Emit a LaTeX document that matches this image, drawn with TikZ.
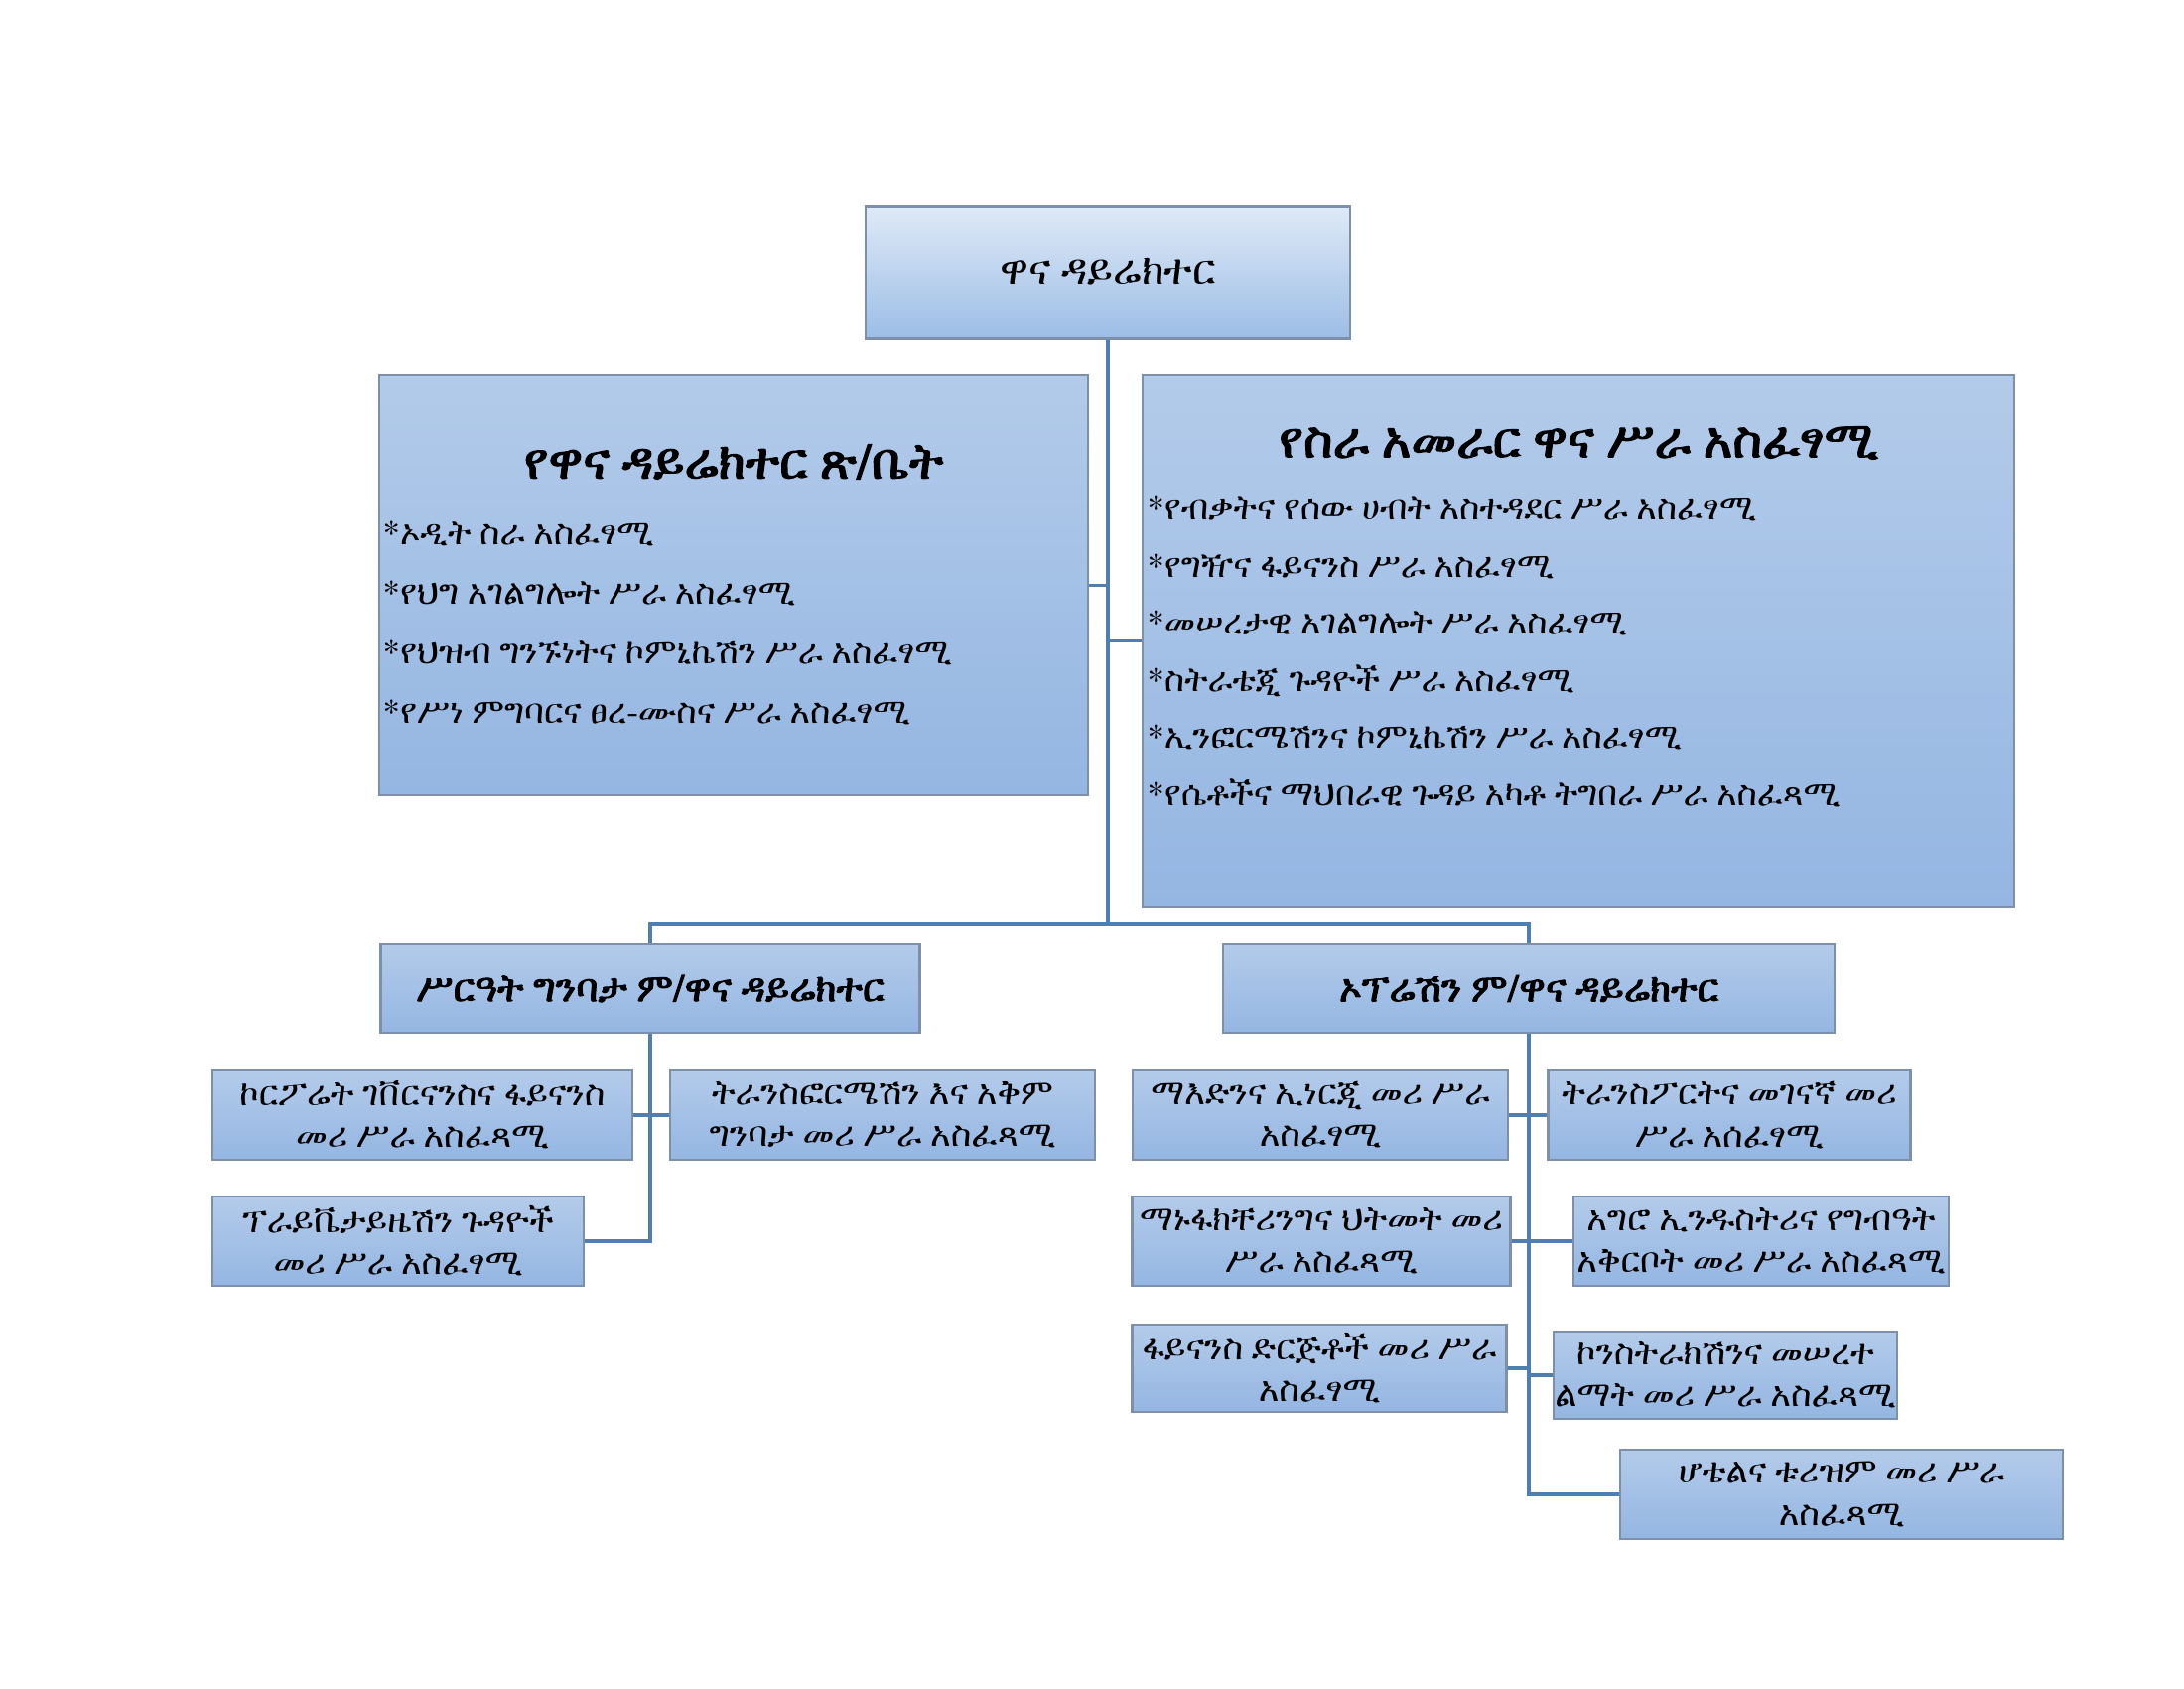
\documentclass[tikz,border=0pt]{standalone}
\usepackage{fontspec}
\newfontfamily\geezsans{FreeSans}[AutoFakeBold=2.5]
\newfontfamily\geezserif{FreeSerif}[AutoFakeBold=2.5]
\newfontfamily\geezsil{Abyssinica SIL}[AutoFakeBold=2.5]
% pick the first family that has the Ethiopic letters
\geezsans
\iffontchar\font"12A0 \let\geez\geezsans \else
  \geezserif
  \iffontchar\font"12A0 \let\geez\geezserif \else \let\geez\geezsil \fi
\fi
\normalfont
\usetikzlibrary{positioning,calc}
\definecolor{boxtop}{HTML}{B3CBEA}
\definecolor{boxbot}{HTML}{94B6E2}
\definecolor{headtop}{HTML}{DFEAF7}
\definecolor{headbot}{HTML}{9CBDE6}
\definecolor{boxline}{HTML}{7D8FA9}
\definecolor{linkline}{HTML}{4F7FB0}
\tikzset{
  unit/.style    = { draw=boxline, line width=0.6pt, top color=boxtop, bottom color=boxbot,
    inner sep=0pt, align=center, minimum height=0.9cm, font=\geez\fontsize{10}{12}\selectfont },
  chief/.style   = { unit, top color=headtop, bottom color=headbot, font=\geez\fontsize{12}{16}\selectfont },
  deputy/.style  = { unit, font=\geez\bfseries\fontsize{11.1}{15}\selectfont },
  headtxt/.style = { inner sep=0pt, font=\geez\bfseries\fontsize{14.4}{20}\selectfont },
  listtxt/.style = { inner sep=0pt, align=left, anchor=west },
  link/.style    = { draw=linkline, line width=1pt }
}
\begin{document}
\begin{tikzpicture}
    \useasboundingbox (0,0) rectangle (22,-17);
    % top
    \node[chief, minimum width=4.88cm, minimum height=1.33cm] (dir) at (11.16,-2.74) {ዋና ዳይሬክተር};
    \node[unit, minimum width=7.14cm, minimum height=4.23cm] (office) at (7.39,-5.895) {};
    \node[unit, minimum width=8.78cm, minimum height=5.35cm] (mgmt) at (15.90,-6.455) {};
    \node[headtxt] (officehead) at ($(office.north)+(0,-0.88)$) {የዋና ዳይሬክተር ጽ/ቤት};
    \node[listtxt, font=\geez\fontsize{9.9}{17}\selectfont] (officelist) at ($(office.west)+(0.04,-0.38)$)
      {*ኦዲት ስራ አስፈፃሚ\\ *የህግ አገልግሎት ሥራ አስፈፃሚ\\ *የህዝብ ግንኙነትና ኮምኒኬሽን ሥራ አስፈፃሚ\\ *የሥነ ምግባርና ፀረ-ሙስና ሥራ አስፈፃሚ};
    \node[headtxt] (mgmthead) at ($(mgmt.north)+(0,-0.69)$) {የስራ አመራር ዋና ሥራ አስፈፃሚ};
    \node[listtxt, font=\geez\fontsize{9.85}{16.35}\selectfont] (mgmtlist) at ($(mgmt.west)+(0.05,-0.11)$)
      {*የብቃትና የሰው ሀብት አስተዳደር ሥራ አስፈፃሚ\\ *የግዥና ፋይናንስ ሥራ አስፈፃሚ\\ *መሠረታዊ አገልግሎት ሥራ አስፈፃሚ\\
       *ስትራቴጂ ጉዳዮች ሥራ አስፈፃሚ\\ *ኢንፎርሜሽንና ኮምኒኬሽን ሥራ አስፈፃሚ\\ *የሴቶችና ማህበራዊ ጉዳይ አካቶ ትግበራ ሥራ አስፈጻሚ};

    % deputies
    \node[deputy, minimum width=5.43cm, minimum height=0.89cm] (sysdep) at (6.55,-9.955) {ሥርዓት ግንባታ ም/ዋና ዳይሬክተር};
    \node[deputy, minimum width=6.16cm, minimum height=0.89cm] (opdep) at (15.40,-9.955) {ኦፕሬሽን ም/ዋና ዳይሬክተር};
    \coordinate (hub) at (11.16,-9.31);

    \node[unit, minimum width=4.23cm] (corp) at (4.255,-11.23) {ኮርፖሬት ገቨርናንስና ፋይናንስ\\ መሪ ሥራ አስፈጻሚ};
    \node[unit, minimum width=4.28cm] (transf) at (8.89,-11.23) {ትራንስፎርሜሽን እና አቅም\\ ግንባታ መሪ ሥራ አስፈጻሚ};
    \node[unit, minimum width=3.74cm] (priv) at (4.01,-12.50) {ፕራይቬታይዜሽን ጉዳዮች\\ መሪ ሥራ አስፈፃሚ};

    \node[unit, minimum width=3.78cm] (mine) at (13.30,-11.23) {ማእድንና ኢነርጂ መሪ ሥራ\\ አስፈፃሚ};
    \node[unit, minimum width=3.65cm] (transp) at (17.42,-11.23) {ትራንስፖርትና መገናኛ መሪ\\ ሥራ አሰፈፃሚ};
    \node[unit, minimum width=3.81cm] (manu) at (13.31,-12.50) {ማኑፋክቸሪንግና ህትመት መሪ\\ ሥራ አስፈጻሚ};
    \node[unit, minimum width=3.78cm] (agro) at (17.74,-12.50) {አግሮ ኢንዱስትሪና የግብዓት\\ አቅርቦት መሪ ሥራ አስፈጻሚ};
    \node[unit, minimum width=3.77cm, minimum height=0.88cm] (fin) at (13.29,-13.78) {ፋይናንስ ድርጅቶች መሪ ሥራ\\ አስፈፃሚ};
    \node[unit, minimum width=3.46cm, minimum height=0.88cm] (constr) at (17.38,-13.85) {ኮንስትራክሽንና መሠረተ\\ ልማት መሪ ሥራ አስፈጻሚ};
    \node[unit, minimum width=4.46cm] (hotel) at (18.55,-15.05) {ሆቴልና ቱሪዝም መሪ ሥራ\\ አስፈጻሚ};

    % connectors
    \draw[link] (dir.south) -- (hub);
    \draw[link] (office.east) -- (office.east -| hub);
    \draw[link] (mgmt.west) -- (mgmt.west -| hub);
    \draw[link] (sysdep.north) |- (hub) -| (opdep.north);
    \draw[link] (sysdep.south) |- (priv.east);
    \draw[link] (corp.east) -- (transf.west);
    \draw[link] (opdep.south) |- (hotel.west);
    \draw[link] (mine.east) -- (transp.west);
    \draw[link] (manu.east) -- (agro.west);
    \draw[link] (fin.east) -- (fin.east -| opdep.south);
    \draw[link] (constr.west) -- (constr.west -| opdep.south);
\end{tikzpicture}
\end{document}
